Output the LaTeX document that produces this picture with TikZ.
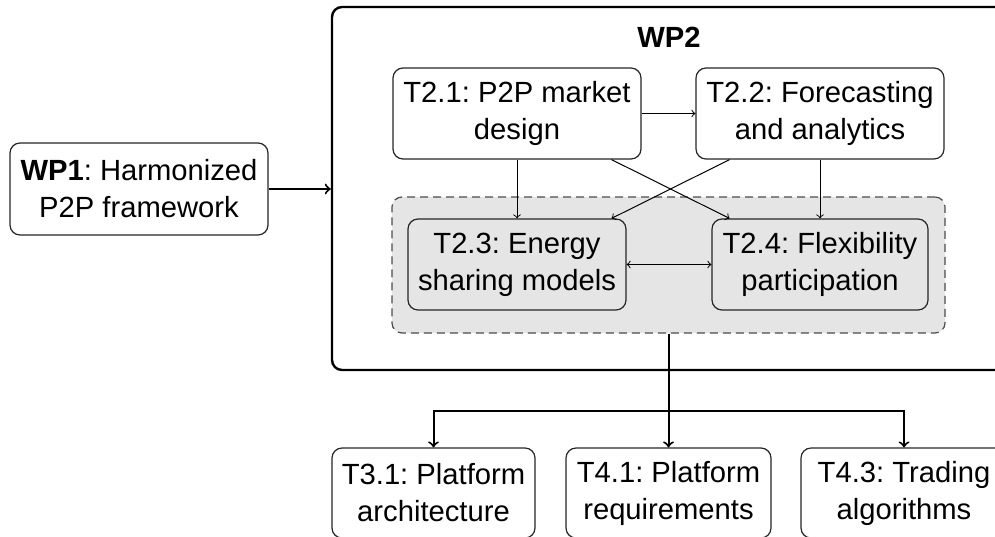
\documentclass[tikz,border=0pt]{standalone}
\usepackage{fontspec}
\setmainfont{Liberation Sans}
\frenchspacing
\begin{document}
\begin{tikzpicture}[x=0.5pt, y=-0.5pt,
    every node/.style={font=\fontsize{14.6}{18.5}\selectfont, align=center, inner sep=0pt},
    task/.style={draw=black!85, line width=0.6pt, rounded corners=5pt, fill=white, minimum height=45.5pt},
    shaded/.style={task, fill=black!10},
    link/.style={->, line width=0.5pt},
    flow/.style={->, line width=1pt}]
  \useasboundingbox (0,0) rectangle (995,536);
  \clip (0,0) rectangle (995,536);
  % work packages
  \node [task, minimum width=129pt, minimum height=46pt] (wp1) at (139,189) {\textbf{WP1}: Harmonized\\P2P framework};
  \node [draw, line width=1.2pt, rounded corners=5pt, minimum width=339pt, minimum height=181.5pt] (wp2) at (671,188.5) {};
  \node [font=\fontsize{14.6}{18.5}\selectfont\bfseries] (wp2title) at (669,37) {WP2};
  % tasks of WP2
  \node [draw=black!70, line width=0.6pt, dash pattern=on 4pt off 2.5pt, fill=black!10, rounded corners=5pt, minimum width=276.5pt, minimum height=68pt] (grp) at (668.5,265) {};
  \node [task, minimum width=124pt] (t21) at (517,113.5) {T2.1: P2P market\\design};
  \node [task, minimum width=124pt] (t22) at (820,113.5) {T2.2: Forecasting\\and analytics};
  \node [shaded, minimum width=109pt] (t23) at (517,264.5) {T2.3: Energy\\sharing models};
  \node [shaded, minimum width=108pt] (t24) at (820,264.5) {T2.4: Flexibility\\participation};
  \draw [link] (t21) -- (t22);
  \draw [link] (t21) -- (t23);
  \draw [link] (t22) -- (t24);
  \draw [link] (t21.-26.6) -- (t24.153.9);
  \draw [link] (t22.-153.7) -- (t23.26.3);
  \draw [link, <->] (t23) -- (t24);
  % follow-up tasks
  \node [task, minimum width=101.5pt, minimum height=45pt] (t31) at (433.5,493) {T3.1: Platform\\architecture};
  \node [task, minimum width=102.5pt, minimum height=45pt] (t41) at (668.5,493) {T4.1: Platform\\requirements};
  \node [task, minimum width=103pt, minimum height=45pt] (t43) at (904,493) {T4.3: Trading\\algorithms};
  \coordinate (split) at (668.5,411);
  \draw [flow] (wp1) -- (wp1 -| wp2.west);
  \draw [flow] (grp.south) -- (t41.north);
  \draw [flow] (split) -| (t31.north);
  \draw [flow] (split) -| (t43.north);
\end{tikzpicture}
\end{document}
